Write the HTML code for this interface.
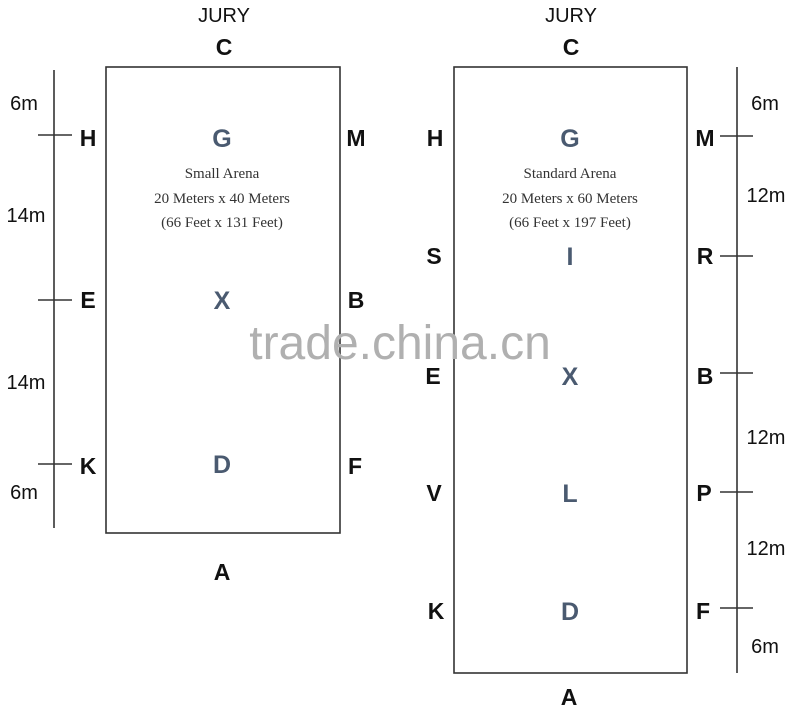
<!DOCTYPE html>
<html><head><meta charset="utf-8"><style>
html,body{margin:0;padding:0;background:#fff;}
svg{display:block}
.l{font-family:"Liberation Sans",sans-serif;font-weight:bold;font-size:23px;fill:#111;text-anchor:middle}
.c{font-family:"Liberation Sans",sans-serif;font-weight:bold;font-size:25px;fill:#4a5a70;text-anchor:middle}
.j{font-family:"Liberation Sans",sans-serif;font-size:20px;fill:#111;text-anchor:middle}
.m{font-family:"Liberation Sans",sans-serif;font-size:20px;fill:#111;text-anchor:middle}
.s{font-family:"Liberation Serif",serif;font-size:15px;fill:#333;text-anchor:middle}
</style></head><body>
<svg width="800" height="716" xmlns="http://www.w3.org/2000/svg">
<g stroke="#333" stroke-width="1.6" fill="none">
<rect x="106" y="67" width="234" height="466"/>
<rect x="454" y="67" width="233" height="606"/>
<line x1="54" y1="70" x2="54" y2="528"/>
<line x1="38" y1="135" x2="72" y2="135"/>
<line x1="38" y1="300" x2="72" y2="300"/>
<line x1="38" y1="464" x2="72" y2="464"/>
<line x1="737" y1="67" x2="737" y2="673"/>
<line x1="720" y1="136" x2="753" y2="136"/>
<line x1="720" y1="256" x2="753" y2="256"/>
<line x1="720" y1="373" x2="753" y2="373"/>
<line x1="720" y1="492" x2="753" y2="492"/>
<line x1="720" y1="608" x2="753" y2="608"/>
</g>
<text class="j" x="224" y="22">JURY</text>
<text class="j" x="571" y="22">JURY</text>
<text class="l" x="224" y="55">C</text>
<text class="l" x="571" y="55">C</text>
<text class="l" x="222" y="580">A</text>
<text class="l" x="569" y="705">A</text>
<text class="l" x="88" y="146">H</text>
<text class="l" x="356" y="146">M</text>
<text class="l" x="88" y="308">E</text>
<text class="l" x="356" y="308">B</text>
<text class="l" x="88" y="474">K</text>
<text class="l" x="355" y="474">F</text>
<text class="c" x="222" y="147">G</text>
<text class="c" x="222" y="309">X</text>
<text class="c" x="222" y="473">D</text>
<text class="s" x="222" y="178">Small Arena</text>
<text class="s" x="222" y="203">20 Meters x 40 Meters</text>
<text class="s" x="222" y="227">(66 Feet x 131 Feet)</text>
<text class="m" x="24" y="110">6m</text>
<text class="m" x="26" y="222">14m</text>
<text class="m" x="26" y="389">14m</text>
<text class="m" x="24" y="499">6m</text>
<text class="l" x="435" y="146">H</text>
<text class="l" x="434" y="264">S</text>
<text class="l" x="433" y="384">E</text>
<text class="l" x="434" y="501">V</text>
<text class="l" x="436" y="619">K</text>
<text class="l" x="705" y="146">M</text>
<text class="l" x="705" y="264">R</text>
<text class="l" x="705" y="384">B</text>
<text class="l" x="704" y="501">P</text>
<text class="l" x="703" y="619">F</text>
<text class="c" x="570" y="147">G</text>
<text class="c" x="570" y="265">I</text>
<text class="c" x="570" y="385">X</text>
<text class="c" x="570" y="502">L</text>
<text class="c" x="570" y="620">D</text>
<text class="s" x="570" y="178">Standard Arena</text>
<text class="s" x="570" y="203">20 Meters x 60 Meters</text>
<text class="s" x="570" y="227">(66 Feet x 197 Feet)</text>
<text class="m" x="765" y="110">6m</text>
<text class="m" x="766" y="202">12m</text>
<text class="m" x="766" y="444">12m</text>
<text class="m" x="766" y="555">12m</text>
<text class="m" x="765" y="653">6m</text>
<text x="400" y="359" font-family="Liberation Sans,sans-serif" font-size="48" fill="#b0b0b0" text-anchor="middle">trade.china.cn</text>
</svg>
</body></html>
